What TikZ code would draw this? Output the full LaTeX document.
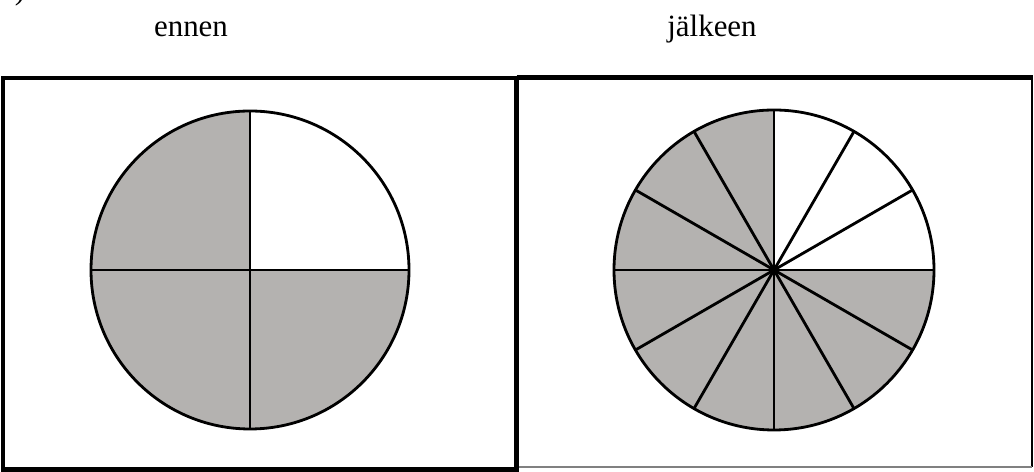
\documentclass[tikz,border=0pt]{standalone}
\usepackage{fontspec}
\setmainfont{Liberation Serif}
\definecolor{piegray}{RGB}{180,178,176}

\begin{document}
\begin{tikzpicture}[x=0.02cm,y=0.02cm,
  pie/.style={line width=1.6pt},
  boxline/.style={line width=2.8pt},
  caption/.style={font=\fontsize{17.6}{20}\selectfont}]
 \useasboundingbox (0,0) rectangle (1034,472);
 \begin{scope}
  \clip (0,0) rectangle (1034,472);
  \node[caption,anchor=base] (paren) at (20,472) {)};
 \end{scope}
 \node[caption] (ennen) at (191,443) {ennen};
 \node[caption] (jalkeen) at (712,443) {jälkeen};
 % frames
 \draw[boxline] (3,2.5) rectangle (516.5,394);
 \draw[boxline] (516.5,394.5) -- (1033,394.5);
 \draw[line width=1.2pt] (1032,394.5) -- (1032,5);
 \draw[line width=1pt,gray] (519,5) -- (1032,5);
 % ennen
 \coordinate (c1) at (250,202);
 \fill[piegray] (c1) -- ++(90:159) arc[start angle=90,end angle=360,radius=159] -- cycle;
 \draw[pie] (c1) circle[radius=159];
 \draw[pie] (91,202) -- (409,202);
 \draw[pie] (250,43) -- (250,361);
 % jalkeen
 \coordinate (c2) at (774,202);
 \fill[piegray] (c2) -- ++(90:160) arc[start angle=90,end angle=360,radius=160] -- cycle;
 \foreach \a in {0,30,...,330}
  \draw[pie] (c2) -- ++(\a:160);
 \draw[pie] (c2) circle[radius=160];
 \fill (c2) circle[radius=5];
\end{tikzpicture}
\end{document}
